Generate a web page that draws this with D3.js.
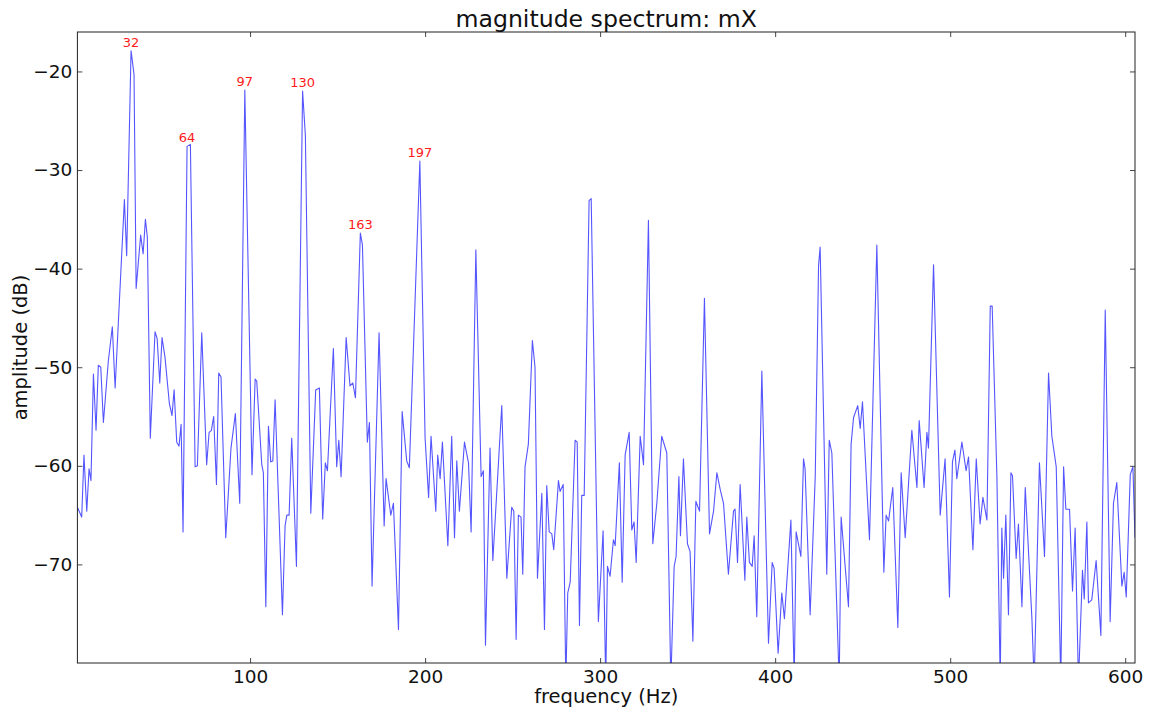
<!DOCTYPE html>
<html>
<head>
<meta charset="utf-8">
<script src="https://cdn.jsdelivr.net/npm/d3@7"></script>
<style>
  html, body { margin: 0; padding: 0; background: #fff; }
  svg { display: block; font-family: "DejaVu Sans", sans-serif; }
</style>
</head>
<body>
<svg id="chart" width="1152" height="712"></svg>
<script>
// Magnitude spectrum mX: frequency (Hz) and amplitude (dB) of the traced vertices
const freqHz = [
  1.35, 3.8, 5.1, 6.7, 8.0, 9.1, 10.5, 12.0, 13.3, 14.7, 16.2, 19.0, 21.3, 22.9, 28.2, 29.5,
  32, 33.7, 34.9, 37.5, 38.9, 40.2, 41.3, 43.0, 45.7, 46.9, 48.4, 49.7, 51.4, 53.9, 55.4, 56.6,
  58.1, 59.4, 60.6, 61.7, 64, 65.9, 68.6, 69.9, 72.4, 75.2, 76.6, 77.9, 79.2, 80.8, 82.1, 83.4,
  86.1, 89.1, 91.6, 94.1, 97, 101.1, 102.9, 103.8, 106.7, 107.6, 109.0, 110.5, 111.8, 113.0, 114.3, 118.5,
  120.0, 121.0, 122.3, 123.8, 126.5, 130, 131.6, 134.7, 137.5, 139.6, 141.5, 143.0, 144.2, 147.6, 149.5, 150.7,
  152.0, 154.9, 157.1, 158.7, 160.2, 163, 164.2, 167.0, 168.2, 169.7, 173.7, 176.6, 177.7, 180.4, 181.9, 184.8,
  186.9, 189.5, 191.0, 197, 200.0, 202.0, 203.4, 206.1, 207.2, 208.6, 209.9, 213.0, 215.2, 216.8, 218.1, 219.6,
  222.5, 224.8, 226.3, 229.0, 232.0, 233.3, 234.5, 237.1, 238.7, 243.8, 246.7, 249.5, 250.7, 252.0, 253.3, 254.8,
  255.8, 257.1, 259.0, 261.3, 262.8, 264.2, 266.7, 268.2, 269.5, 270.9, 272.4, 273.5, 276.2, 277.1, 278.9, 280.4,
  281.5, 282.9, 285.7, 286.9, 288.2, 289.5, 290.9, 293.7, 294.9, 299.0, 301.7, 303.2, 304.2, 305.7, 307.6, 308.6,
  311.0, 312.6, 314.3, 316.6, 318.1, 319.4, 320.6, 322.9, 324.8, 327.6, 330.1, 332.4, 335.2, 338.1, 340.4, 342.3,
  343.4, 345.0, 345.9, 347.6, 349.9, 351.4, 353.0, 354.7, 356.8, 359.6, 362.5, 364.8, 366.7, 368.6, 370.5, 373.3,
  376.2, 377.1, 378.5, 380.0, 382.7, 383.8, 385.3, 386.9, 388.0, 389.5, 392.4, 396.2, 398.3, 399.4, 401.7, 403.8,
  405.3, 409.0, 410.9, 412.0, 414.7, 416.2, 417.1, 420.0, 422.9, 424.8, 425.7, 429.5, 430.9, 432.4, 436.6, 437.7,
  441.9, 443.4, 444.8, 447.2, 448.6, 449.9, 453.9, 458.1, 462.1, 463.4, 464.8, 467.2, 470.1, 472.0, 474.3, 478.1,
  481.0, 482.3, 485.1, 486.7, 487.6, 490.5, 494.3, 497.1, 499.6, 501.3, 502.7, 503.8, 506.7, 509.1, 510.5, 513.0,
  514.9, 517.1, 518.7, 521.0, 522.9, 524.0, 526.7, 528.6, 529.5, 530.5, 531.8, 533.3, 534.7, 535.6, 537.7, 539.0,
  541.0, 542.9, 546.7, 548.0, 551.0, 553.9, 556.2, 558.1, 560.6, 563.2, 564.8, 566.1, 568.2, 569.9, 571.4, 573.3,
  575.6, 576.6, 578.1, 579.0, 580.9, 583.4, 586.1, 588.6, 591.4, 593.3, 595.2, 598.1, 599.4, 600.6, 602.9, 604.4,
  605.6
];
const magDb = [
  -64.2, -65.2, -58.9, -64.6, -60.3, -61.5, -50.7, -56.4, -49.8, -50.0, -55.6, -49.4, -45.9, -52.1, -33.0, -38.7,
  -17.9, -20.3, -42.0, -36.6, -38.5, -35.0, -36.8, -57.2, -46.4, -47.1, -51.6, -47.0, -49.0, -53.7, -54.9, -52.3,
  -57.6, -58.0, -55.8, -66.7, -27.6, -27.4, -60.1, -60.0, -46.5, -59.9, -56.6, -56.4, -55.0, -61.9, -50.6, -51.0,
  -67.3, -58.2, -54.7, -63.8, -21.9, -60.9, -51.2, -51.4, -59.9, -60.7, -74.3, -56.0, -59.6, -59.5, -53.3, -75.1,
  -66.1, -65.0, -65.0, -57.2, -70.2, -22.0, -26.5, -64.8, -52.3, -52.1, -65.4, -59.7, -60.5, -48.1, -60.1, -57.4,
  -61.1, -47.0, -51.9, -51.6, -53.1, -36.4, -37.6, -57.6, -55.6, -72.2, -46.5, -66.1, -61.3, -65.0, -63.8, -76.6,
  -54.5, -59.5, -60.2, -29.1, -57.2, -63.2, -57.0, -64.6, -58.9, -61.3, -57.6, -68.1, -57.0, -67.3, -59.5, -64.6,
  -57.6, -59.7, -66.7, -38.1, -61.1, -60.5, -78.2, -58.2, -69.6, -53.9, -71.4, -64.2, -64.6, -77.6, -65.0, -65.2,
  -71.0, -60.1, -57.8, -47.3, -50.0, -71.4, -62.8, -76.6, -62.0, -66.7, -66.9, -68.5, -61.5, -62.6, -61.9, -82.0,
  -72.9, -71.8, -57.4, -57.6, -76.2, -63.0, -63.0, -33.1, -32.9, -75.8, -66.6, -82.0, -70.2, -71.2, -67.5, -68.1,
  -59.7, -71.8, -58.9, -56.6, -66.5, -65.7, -69.8, -57.0, -59.9, -35.1, -67.9, -63.8, -57.0, -58.7, -82.0, -70.2,
  -69.2, -61.1, -67.1, -59.3, -67.9, -68.7, -77.8, -63.6, -64.6, -43.0, -66.9, -64.6, -60.7, -62.4, -63.8, -71.0,
  -64.6, -64.4, -69.8, -61.9, -71.6, -65.2, -69.8, -70.2, -67.1, -75.3, -50.4, -78.0, -69.8, -70.4, -79.0, -72.9,
  -75.5, -65.5, -82.0, -66.7, -69.2, -59.3, -60.3, -75.1, -61.1, -39.7, -37.8, -71.0, -57.4, -58.7, -82.0, -65.2,
  -74.3, -57.8, -55.1, -53.9, -56.2, -53.5, -67.5, -37.6, -70.8, -65.0, -65.6, -62.2, -76.4, -60.7, -67.3, -56.4,
  -62.2, -55.4, -62.2, -56.6, -58.2, -39.6, -65.0, -59.3, -73.3, -59.6, -58.4, -61.3, -57.6, -60.5, -59.1, -68.5,
  -59.3, -65.9, -63.2, -65.5, -43.8, -43.8, -61.1, -82.0, -66.3, -71.4, -65.0, -75.1, -60.7, -61.0, -69.4, -65.9,
  -74.3, -62.2, -75.5, -82.0, -59.7, -69.2, -50.6, -57.0, -60.1, -82.0, -60.1, -64.4, -64.4, -72.7, -66.3, -82.0,
  -70.6, -73.5, -65.7, -73.9, -73.6, -69.6, -77.2, -44.2, -75.8, -63.8, -61.7, -72.2, -70.8, -73.3, -60.9, -60.1,
  -67.3
];

// Detected peaks, annotated with their frequency
const peakHz = [32, 64, 97, 130, 163, 197];
const peakDb = [-17.9, -27.6, -21.9, -22.0, -36.4, -29.1];
const peakText = ["32", "64", "97", "130", "163", "197"];

// Axis ticks
const xTicks = [100, 200, 300, 400, 500, 600];
const yTicks = [-70, -60, -50, -40, -30, -20];

const plotLeft = 77.4, plotRight = 1135, plotTop = 32, plotBottom = 663;

const svg = d3.select("#chart");

const x = d3.scaleLinear().domain([1.3458, 605.6]).range([plotLeft, plotRight]);
const y = d3.scaleLinear().domain([-80, -16]).range([plotBottom, plotTop]);

svg.append("defs").append("clipPath").attr("id", "plotClip")
  .append("rect")
  .attr("x", plotLeft).attr("y", plotTop)
  .attr("width", plotRight - plotLeft).attr("height", plotBottom - plotTop);

// spectrum line
const pts = freqHz.map((f, i) => [f, magDb[i]]);
const line = d3.line().x(d => x(d[0])).y(d => y(d[1]));

svg.append("path")
  .attr("clip-path", "url(#plotClip)")
  .attr("d", line(pts))
  .attr("fill", "none")
  .attr("stroke", "#2a2aff")
  .attr("stroke-opacity", 0.8)
  .attr("stroke-width", 1.1)
  .attr("stroke-linejoin", "round");

// peak annotations
svg.append("g")
  .selectAll("text")
  .data(peakHz)
  .join("text")
  .attr("x", d => x(d))
  .attr("y", (d, i) => y(peakDb[i]) - 4)
  .attr("text-anchor", "middle")
  .attr("font-size", 13)
  .attr("fill", "#ff1a1a")
  .text((d, i) => peakText[i]);

// axes with inward ticks on all four sides
const fmt = d3.format("d");
const styleAxis = g => {
  g.select(".domain").remove();
  g.selectAll(".tick line").attr("stroke", "#333").attr("stroke-width", 0.9);
  g.selectAll(".tick text").attr("fill", "#111").attr("font-family", "DejaVu Sans, sans-serif");
};

svg.append("g")
  .attr("transform", `translate(0,${plotBottom})`)
  .call(d3.axisBottom(x).tickValues(xTicks).tickFormat(fmt).tickSizeInner(-5).tickSizeOuter(0).tickPadding(7))
  .call(styleAxis)
  .selectAll(".tick text").attr("font-size", 18.5);

svg.append("g")
  .attr("transform", `translate(0,${plotTop})`)
  .call(d3.axisTop(x).tickValues(xTicks).tickFormat("").tickSizeInner(-5).tickSizeOuter(0))
  .call(styleAxis);

svg.append("g")
  .attr("transform", `translate(${plotLeft},0)`)
  .call(d3.axisLeft(y).tickValues(yTicks).tickFormat(fmt).tickSizeInner(-5).tickSizeOuter(0).tickPadding(5))
  .call(styleAxis)
  .selectAll(".tick text").attr("font-size", 18.5);

svg.append("g")
  .attr("transform", `translate(${plotRight},0)`)
  .call(d3.axisRight(y).tickValues(yTicks).tickFormat("").tickSizeInner(-5).tickSizeOuter(0))
  .call(styleAxis);

// frame
svg.append("rect")
  .attr("x", plotLeft).attr("y", plotTop)
  .attr("width", plotRight - plotLeft).attr("height", plotBottom - plotTop)
  .attr("fill", "none")
  .attr("stroke", "#222")
  .attr("stroke-width", 1);

// title and axis labels
svg.append("text")
  .attr("x", (plotLeft + plotRight) / 2).attr("y", 27)
  .attr("text-anchor", "middle")
  .attr("font-size", 23.6)
  .attr("fill", "#111")
  .text("magnitude spectrum: mX");

svg.append("text")
  .attr("x", (plotLeft + plotRight) / 2).attr("y", 703)
  .attr("text-anchor", "middle")
  .attr("font-size", 19.5)
  .attr("fill", "#111")
  .text("frequency (Hz)");

svg.append("text")
  .attr("transform", `translate(27,${(plotTop + plotBottom) / 2}) rotate(-90)`)
  .attr("text-anchor", "middle")
  .attr("font-size", 19.5)
  .attr("fill", "#111")
  .text("amplitude (dB)");
</script>
</body>
</html>
